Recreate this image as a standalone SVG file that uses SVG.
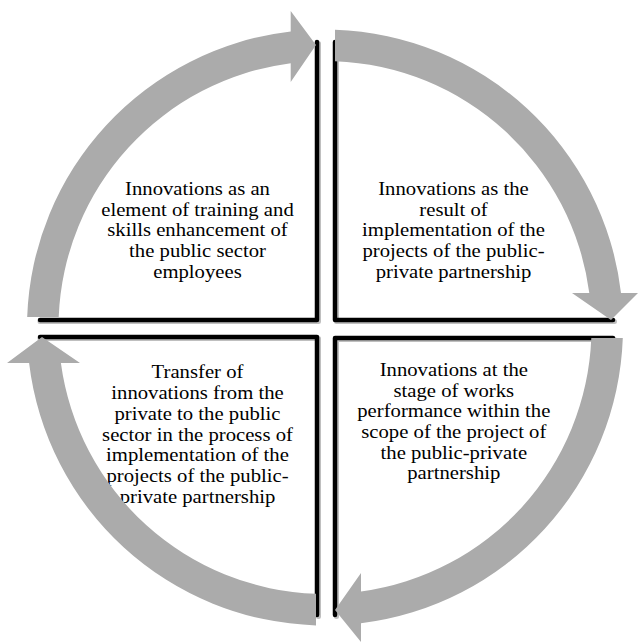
<svg xmlns="http://www.w3.org/2000/svg" width="638" height="642" viewBox="0 0 638 642">
<style>
.edge{fill:none;stroke:#000;stroke-width:4.5;stroke-linecap:round;stroke-linejoin:round}
.shadow{fill:none;stroke:#000;stroke-opacity:0.25;stroke-width:5;stroke-linecap:round;stroke-linejoin:round}
.lbl{font-family:"Liberation Serif","Times New Roman",serif;font-size:19px;fill:#000;text-anchor:middle}
.arrow{fill:#ababab;stroke:none}
</style>
<rect width="638" height="642" fill="#fff"/>
<g id="node-top-left">
<path class="shadow" d="M40,321.5 L318.5,321.5 L318.5,43.5"/>
<path class="edge" d="M40,320 L317,320 L317,42"/>
<g transform="translate(197.5,0) scale(1.09,1)">
<text class="lbl" x="0" y="195">Innovations as an</text>
<text class="lbl" x="0" y="215.7">element of training and</text>
<text class="lbl" x="0" y="236.4">skills enhancement of</text>
<text class="lbl" x="0" y="257.1">the public sector</text>
<text class="lbl" x="0" y="277.8">employees</text>
</g>
</g>
<g id="node-top-right">
<path class="shadow" d="M336.5,43.5 L336.5,321.5 L614.5,321.5"/>
<path class="edge" d="M335,42 L335,320 L613,320"/>
<g transform="translate(453.5,0) scale(1.09,1)">
<text class="lbl" x="0" y="195">Innovations as the</text>
<text class="lbl" x="0" y="215.7">result of</text>
<text class="lbl" x="0" y="236.4">implementation of the</text>
<text class="lbl" x="0" y="257.1">projects of the public-</text>
<text class="lbl" x="0" y="277.8">private partnership</text>
</g>
</g>
<g id="node-bottom-left">
<path class="shadow" d="M40,338.5 L318.5,338.5 L318.5,616.5"/>
<path class="edge" d="M40,337 L317,337 L317,615"/>
<g transform="translate(197.5,0) scale(1.09,1)">
<text class="lbl" x="0" y="378.5">Transfer of</text>
<text class="lbl" x="0" y="399.2">innovations from the</text>
<text class="lbl" x="0" y="419.9">private to the public</text>
<text class="lbl" x="0" y="440.6">sector in the process of</text>
<text class="lbl" x="0" y="461.3">implementation of the</text>
<text class="lbl" x="0" y="482">projects of the public-</text>
<text class="lbl" x="0" y="502.7">private partnership</text>
</g>
</g>
<g id="node-bottom-right">
<path class="shadow" d="M336.5,616.5 L336.5,339.5 L614.5,339.5"/>
<path class="edge" d="M335,615 L335,338 L613,338"/>
<g transform="translate(453.8,0) scale(1.09,1)">
<text class="lbl" x="0" y="376">Innovations at the</text>
<text class="lbl" x="0" y="396.7">stage of works</text>
<text class="lbl" x="0" y="417.4">performance within the</text>
<text class="lbl" x="0" y="438.1">scope of the project of</text>
<text class="lbl" x="0" y="458.8">the public-private</text>
<text class="lbl" x="0" y="479.5">partnership</text>
</g>
</g>
<g id="connectors">
<path class="arrow" d="M27.2,317 A298,298 0 0 1 290.7,31.5 L290.7,11 L316,45 L290.7,82 L290.7,63.2 A266.5,266.5 0 0 0 58.7,317 Z"/>
<path class="arrow" d="M335,29.7 A298,298 0 0 1 621,293 L638,293 L611,320 L572,293 L589.3,293 A266.5,266.5 0 0 0 335,61.2 Z"/>
<path class="arrow" d="M622.8,338 A298,298 0 0 1 361,623.3 L361,642 L335,610 L361,573 L361,591.6 A266.5,266.5 0 0 0 591.3,338 Z"/>
<path class="arrow" d="M316,625.4 A298,298 0 0 1 29.1,363 L7,363 L42,337 L80,363 L60.9,363 A266.5,266.5 0 0 0 316,593.8 Z"/>
</g>
</svg>
